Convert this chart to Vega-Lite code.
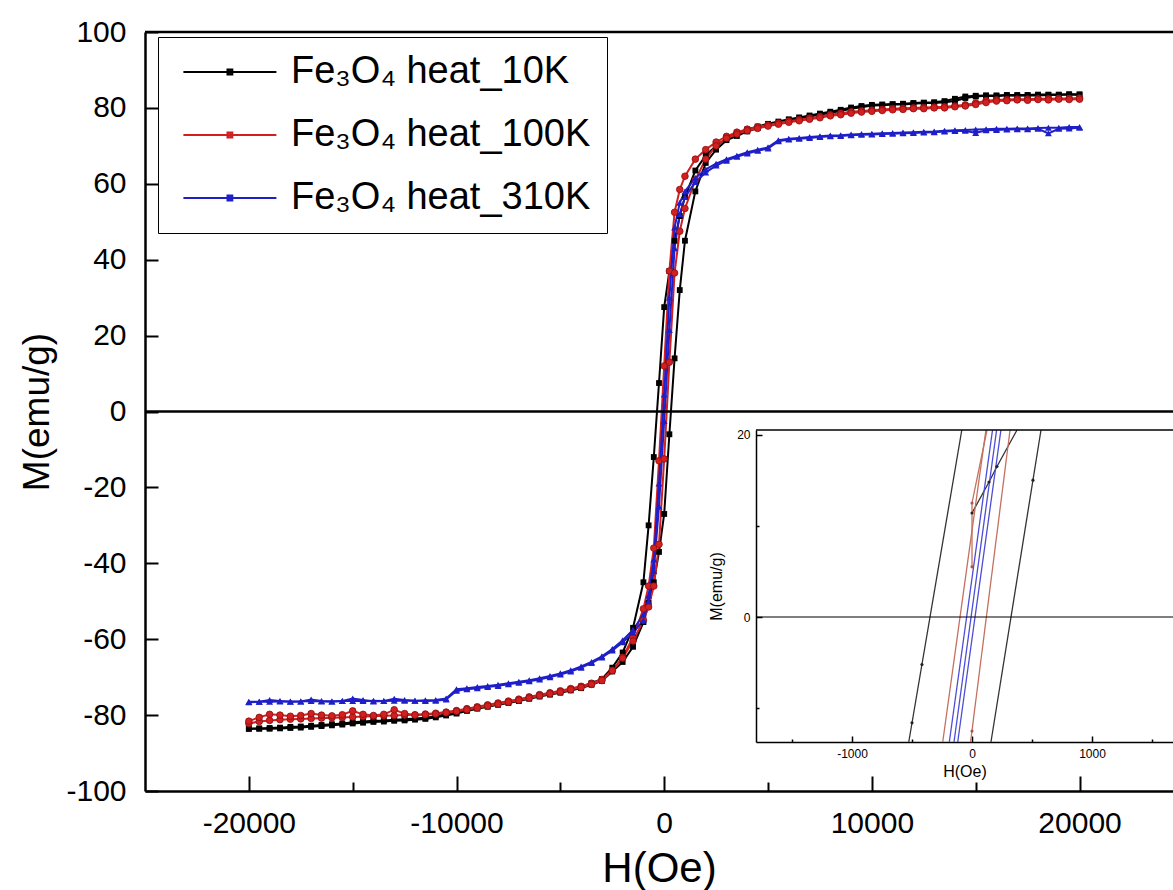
{
"$schema": "https://vega.github.io/schema/vega-lite/v6.json",
"width": 1028, "height": 759,
"autosize": {"type": "none"},
"padding": {"left": 145, "top": 32, "right": 0, "bottom": 99},
"background": "white",
"config": {"view": {"stroke": null}, "font": "Liberation Sans"},
"datasets": {
"main": [
{"s":"10K","b":"d","H":20000,"M":83.6},{"s":"10K","b":"d","H":19500,"M":83.6},{"s":"10K","b":"d","H":19000,"M":83.5},{"s":"10K","b":"d","H":18500,"M":83.5},{"s":"10K","b":"d","H":18000,"M":83.5},{"s":"10K","b":"d","H":17500,"M":83.4},{"s":"10K","b":"d","H":17000,"M":83.4},{"s":"10K","b":"d","H":16500,"M":83.4},{"s":"10K","b":"d","H":16000,"M":83.3},{"s":"10K","b":"d","H":15500,"M":83.3},{"s":"10K","b":"d","H":15000,"M":83.2},{"s":"10K","b":"d","H":14500,"M":83.0},{"s":"10K","b":"d","H":14000,"M":82.4},{"s":"10K","b":"d","H":13500,"M":81.8},{"s":"10K","b":"d","H":13000,"M":81.5},{"s":"10K","b":"d","H":12500,"M":81.4},{"s":"10K","b":"d","H":12000,"M":81.3},{"s":"10K","b":"d","H":11500,"M":81.1},{"s":"10K","b":"d","H":11000,"M":81.0},{"s":"10K","b":"d","H":10500,"M":80.9},{"s":"10K","b":"d","H":10000,"M":80.8},{"s":"10K","b":"d","H":9500,"M":80.5},{"s":"10K","b":"d","H":9000,"M":80.1},{"s":"10K","b":"d","H":8500,"M":79.5},{"s":"10K","b":"d","H":8000,"M":79.0},{"s":"10K","b":"d","H":7500,"M":78.5},{"s":"10K","b":"d","H":7000,"M":78.0},{"s":"10K","b":"d","H":6500,"M":77.5},{"s":"10K","b":"d","H":6000,"M":77.0},{"s":"10K","b":"d","H":5500,"M":76.4},{"s":"10K","b":"d","H":5000,"M":75.8},{"s":"10K","b":"d","H":4500,"M":75.1},{"s":"10K","b":"d","H":4000,"M":74.3},{"s":"10K","b":"d","H":3500,"M":73.3},{"s":"10K","b":"d","H":3000,"M":72.0},
{"s":"10K","b":"d","H":2500,"M":70.0},{"s":"10K","b":"d","H":2000,"M":67.5},{"s":"10K","b":"d","H":1500,"M":63.5},{"s":"10K","b":"d","H":1000,"M":56.5},{"s":"10K","b":"d","H":750,"M":51.5},{"s":"10K","b":"d","H":500,"M":45.0},{"s":"10K","b":"d","H":250,"M":37.0},{"s":"10K","b":"d","H":0,"M":27.5},{"s":"10K","b":"d","H":-250,"M":7.5},{"s":"10K","b":"d","H":-500,"M":-12.0},{"s":"10K","b":"d","H":-750,"M":-30.0},{"s":"10K","b":"d","H":-1000,"M":-45.0},{"s":"10K","b":"d","H":-1500,"M":-57.0},{"s":"10K","b":"d","H":-2000,"M":-63.5},{"s":"10K","b":"d","H":-2500,"M":-67.5},
{"s":"10K","b":"d","H":-3000,"M":-70.5},{"s":"10K","b":"d","H":-3500,"M":-71.6},{"s":"10K","b":"d","H":-4000,"M":-72.5},{"s":"10K","b":"d","H":-4500,"M":-73.2},{"s":"10K","b":"d","H":-5000,"M":-73.8},{"s":"10K","b":"d","H":-5500,"M":-74.3},{"s":"10K","b":"d","H":-6000,"M":-74.8},{"s":"10K","b":"d","H":-6500,"M":-75.4},{"s":"10K","b":"d","H":-7000,"M":-76.0},{"s":"10K","b":"d","H":-7500,"M":-76.5},{"s":"10K","b":"d","H":-8000,"M":-77.0},{"s":"10K","b":"d","H":-8500,"M":-77.5},{"s":"10K","b":"d","H":-9000,"M":-78.0},{"s":"10K","b":"d","H":-9500,"M":-78.6},{"s":"10K","b":"d","H":-10000,"M":-79.3},{"s":"10K","b":"d","H":-10500,"M":-79.8},{"s":"10K","b":"d","H":-11000,"M":-80.3},{"s":"10K","b":"d","H":-11500,"M":-80.7},{"s":"10K","b":"d","H":-12000,"M":-80.9},{"s":"10K","b":"d","H":-12500,"M":-81.1},{"s":"10K","b":"d","H":-13000,"M":-81.2},{"s":"10K","b":"d","H":-13500,"M":-81.4},{"s":"10K","b":"d","H":-14000,"M":-81.5},{"s":"10K","b":"d","H":-14500,"M":-81.7},{"s":"10K","b":"d","H":-15000,"M":-81.9},{"s":"10K","b":"d","H":-15500,"M":-82.2},{"s":"10K","b":"d","H":-16000,"M":-82.4},{"s":"10K","b":"d","H":-16500,"M":-82.6},{"s":"10K","b":"d","H":-17000,"M":-82.8},{"s":"10K","b":"d","H":-17500,"M":-83.0},{"s":"10K","b":"d","H":-18000,"M":-83.1},{"s":"10K","b":"d","H":-18500,"M":-83.3},{"s":"10K","b":"d","H":-19000,"M":-83.4},{"s":"10K","b":"d","H":-19500,"M":-83.5},{"s":"10K","b":"d","H":-20000,"M":-83.6},
{"s":"10K","b":"a","H":20000,"M":83.4},{"s":"10K","b":"a","H":19500,"M":83.5},{"s":"10K","b":"a","H":19000,"M":83.4},{"s":"10K","b":"a","H":18500,"M":83.4},{"s":"10K","b":"a","H":18000,"M":83.3},{"s":"10K","b":"a","H":17500,"M":83.3},{"s":"10K","b":"a","H":17000,"M":83.2},{"s":"10K","b":"a","H":16500,"M":83.3},{"s":"10K","b":"a","H":16000,"M":83.1},{"s":"10K","b":"a","H":15500,"M":83.2},{"s":"10K","b":"a","H":15000,"M":83.0},{"s":"10K","b":"a","H":14500,"M":82.6},{"s":"10K","b":"a","H":14000,"M":81.8},{"s":"10K","b":"a","H":13500,"M":81.5},{"s":"10K","b":"a","H":13000,"M":81.3},{"s":"10K","b":"a","H":12500,"M":81.3},{"s":"10K","b":"a","H":12000,"M":81.1},{"s":"10K","b":"a","H":11500,"M":80.9},{"s":"10K","b":"a","H":11000,"M":80.9},{"s":"10K","b":"a","H":10500,"M":80.7},{"s":"10K","b":"a","H":10000,"M":80.6},{"s":"10K","b":"a","H":9500,"M":80.2},{"s":"10K","b":"a","H":9000,"M":79.8},{"s":"10K","b":"a","H":8500,"M":79.2},{"s":"10K","b":"a","H":8000,"M":78.7},{"s":"10K","b":"a","H":7500,"M":78.2},{"s":"10K","b":"a","H":7000,"M":77.7},{"s":"10K","b":"a","H":6500,"M":77.2},{"s":"10K","b":"a","H":6000,"M":76.7},{"s":"10K","b":"a","H":5500,"M":76.1},{"s":"10K","b":"a","H":5000,"M":75.5},{"s":"10K","b":"a","H":4500,"M":74.7},{"s":"10K","b":"a","H":4000,"M":73.8},{"s":"10K","b":"a","H":3500,"M":72.6},{"s":"10K","b":"a","H":3000,"M":71.5},
{"s":"10K","b":"a","H":2500,"M":69.0},{"s":"10K","b":"a","H":2000,"M":65.5},{"s":"10K","b":"a","H":1500,"M":58.0},{"s":"10K","b":"a","H":1000,"M":45.0},{"s":"10K","b":"a","H":750,"M":32.0},{"s":"10K","b":"a","H":500,"M":14.0},{"s":"10K","b":"a","H":250,"M":-6.0},{"s":"10K","b":"a","H":0,"M":-27.0},{"s":"10K","b":"a","H":-250,"M":-37.0},{"s":"10K","b":"a","H":-500,"M":-45.0},{"s":"10K","b":"a","H":-750,"M":-50.5},{"s":"10K","b":"a","H":-1000,"M":-55.5},{"s":"10K","b":"a","H":-1500,"M":-62.0},{"s":"10K","b":"a","H":-2000,"M":-66.0},{"s":"10K","b":"a","H":-2500,"M":-68.5},
{"s":"10K","b":"a","H":-3000,"M":-71.0},{"s":"10K","b":"a","H":-3500,"M":-72.0},{"s":"10K","b":"a","H":-4000,"M":-72.9},{"s":"10K","b":"a","H":-4500,"M":-73.5},{"s":"10K","b":"a","H":-5000,"M":-74.1},{"s":"10K","b":"a","H":-5500,"M":-74.6},{"s":"10K","b":"a","H":-6000,"M":-75.1},{"s":"10K","b":"a","H":-6500,"M":-75.7},{"s":"10K","b":"a","H":-7000,"M":-76.3},{"s":"10K","b":"a","H":-7500,"M":-76.8},{"s":"10K","b":"a","H":-8000,"M":-77.3},{"s":"10K","b":"a","H":-8500,"M":-77.8},{"s":"10K","b":"a","H":-9000,"M":-78.3},{"s":"10K","b":"a","H":-9500,"M":-78.9},{"s":"10K","b":"a","H":-10000,"M":-79.6},{"s":"10K","b":"a","H":-10500,"M":-80.1},{"s":"10K","b":"a","H":-11000,"M":-80.6},{"s":"10K","b":"a","H":-11500,"M":-81.0},{"s":"10K","b":"a","H":-12000,"M":-81.2},{"s":"10K","b":"a","H":-12500,"M":-81.4},{"s":"10K","b":"a","H":-13000,"M":-81.5},{"s":"10K","b":"a","H":-13500,"M":-81.7},{"s":"10K","b":"a","H":-14000,"M":-81.8},{"s":"10K","b":"a","H":-14500,"M":-82.0},{"s":"10K","b":"a","H":-15000,"M":-82.2},{"s":"10K","b":"a","H":-15500,"M":-82.5},{"s":"10K","b":"a","H":-16000,"M":-82.7},{"s":"10K","b":"a","H":-16500,"M":-82.9},{"s":"10K","b":"a","H":-17000,"M":-83.1},{"s":"10K","b":"a","H":-17500,"M":-83.3},{"s":"10K","b":"a","H":-18000,"M":-83.4},{"s":"10K","b":"a","H":-18500,"M":-83.5},{"s":"10K","b":"a","H":-19000,"M":-83.6},{"s":"10K","b":"a","H":-19500,"M":-83.6},{"s":"10K","b":"a","H":-20000,"M":-83.6},
{"s":"100K","b":"d","H":20000,"M":82.6},{"s":"100K","b":"d","H":19500,"M":82.5},{"s":"100K","b":"d","H":19000,"M":82.5},{"s":"100K","b":"d","H":18500,"M":82.4},{"s":"100K","b":"d","H":18000,"M":82.4},{"s":"100K","b":"d","H":17500,"M":82.3},{"s":"100K","b":"d","H":17000,"M":82.3},{"s":"100K","b":"d","H":16500,"M":82.2},{"s":"100K","b":"d","H":16000,"M":82.1},{"s":"100K","b":"d","H":15500,"M":81.9},{"s":"100K","b":"d","H":15000,"M":81.3},{"s":"100K","b":"d","H":14500,"M":80.8},{"s":"100K","b":"d","H":14000,"M":80.5},{"s":"100K","b":"d","H":13500,"M":80.3},{"s":"100K","b":"d","H":13000,"M":80.2},{"s":"100K","b":"d","H":12500,"M":80.1},{"s":"100K","b":"d","H":12000,"M":80.0},{"s":"100K","b":"d","H":11500,"M":79.9},{"s":"100K","b":"d","H":11000,"M":79.8},{"s":"100K","b":"d","H":10500,"M":79.6},{"s":"100K","b":"d","H":10000,"M":79.4},{"s":"100K","b":"d","H":9500,"M":79.2},{"s":"100K","b":"d","H":9000,"M":79.0},{"s":"100K","b":"d","H":8500,"M":78.6},{"s":"100K","b":"d","H":8000,"M":78.2},{"s":"100K","b":"d","H":7500,"M":77.7},{"s":"100K","b":"d","H":7000,"M":77.3},{"s":"100K","b":"d","H":6500,"M":76.9},{"s":"100K","b":"d","H":6000,"M":76.5},{"s":"100K","b":"d","H":5500,"M":76.0},{"s":"100K","b":"d","H":5000,"M":75.5},{"s":"100K","b":"d","H":4500,"M":75.0},{"s":"100K","b":"d","H":4000,"M":74.4},{"s":"100K","b":"d","H":3500,"M":73.6},{"s":"100K","b":"d","H":3000,"M":72.5},
{"s":"100K","b":"d","H":2500,"M":71.0},{"s":"100K","b":"d","H":2000,"M":69.0},{"s":"100K","b":"d","H":1500,"M":66.5},{"s":"100K","b":"d","H":1000,"M":62.0},{"s":"100K","b":"d","H":750,"M":58.5},{"s":"100K","b":"d","H":500,"M":52.5},{"s":"100K","b":"d","H":250,"M":37.0},{"s":"100K","b":"d","H":0,"M":12.0},{"s":"100K","b":"d","H":-250,"M":-13.0},{"s":"100K","b":"d","H":-500,"M":-36.0},{"s":"100K","b":"d","H":-750,"M":-46.0},{"s":"100K","b":"d","H":-1000,"M":-52.0},{"s":"100K","b":"d","H":-1500,"M":-59.5},{"s":"100K","b":"d","H":-2000,"M":-64.8},{"s":"100K","b":"d","H":-2500,"M":-68.2},
{"s":"100K","b":"d","H":-3000,"M":-70.6},{"s":"100K","b":"d","H":-3500,"M":-71.6},{"s":"100K","b":"d","H":-4000,"M":-72.4},{"s":"100K","b":"d","H":-4500,"M":-73.0},{"s":"100K","b":"d","H":-5000,"M":-73.6},{"s":"100K","b":"d","H":-5500,"M":-74.1},{"s":"100K","b":"d","H":-6000,"M":-74.6},{"s":"100K","b":"d","H":-6500,"M":-75.2},{"s":"100K","b":"d","H":-7000,"M":-75.8},{"s":"100K","b":"d","H":-7500,"M":-76.3},{"s":"100K","b":"d","H":-8000,"M":-76.8},{"s":"100K","b":"d","H":-8500,"M":-77.3},{"s":"100K","b":"d","H":-9000,"M":-77.8},{"s":"100K","b":"d","H":-9500,"M":-78.3},{"s":"100K","b":"d","H":-10000,"M":-78.8},{"s":"100K","b":"d","H":-10500,"M":-79.2},{"s":"100K","b":"d","H":-11000,"M":-79.5},{"s":"100K","b":"d","H":-11500,"M":-79.7},{"s":"100K","b":"d","H":-12000,"M":-79.9},{"s":"100K","b":"d","H":-12500,"M":-80.0},{"s":"100K","b":"d","H":-13000,"M":-80.1},{"s":"100K","b":"d","H":-13500,"M":-80.2},{"s":"100K","b":"d","H":-14000,"M":-80.3},{"s":"100K","b":"d","H":-14500,"M":-80.4},{"s":"100K","b":"d","H":-15000,"M":-80.5},{"s":"100K","b":"d","H":-15500,"M":-80.6},{"s":"100K","b":"d","H":-16000,"M":-80.7},{"s":"100K","b":"d","H":-16500,"M":-80.8},{"s":"100K","b":"d","H":-17000,"M":-80.9},{"s":"100K","b":"d","H":-17500,"M":-81.0},{"s":"100K","b":"d","H":-18000,"M":-81.1},{"s":"100K","b":"d","H":-18500,"M":-81.2},{"s":"100K","b":"d","H":-19000,"M":-81.4},{"s":"100K","b":"d","H":-19500,"M":-81.7},{"s":"100K","b":"d","H":-20000,"M":-82.2},
{"s":"100K","b":"a","H":20000,"M":82.3},{"s":"100K","b":"a","H":19500,"M":82.2},{"s":"100K","b":"a","H":19000,"M":82.3},{"s":"100K","b":"a","H":18500,"M":82.1},{"s":"100K","b":"a","H":18000,"M":82.2},{"s":"100K","b":"a","H":17500,"M":82.0},{"s":"100K","b":"a","H":17000,"M":82.1},{"s":"100K","b":"a","H":16500,"M":81.9},{"s":"100K","b":"a","H":16000,"M":81.8},{"s":"100K","b":"a","H":15500,"M":81.4},{"s":"100K","b":"a","H":15000,"M":80.9},{"s":"100K","b":"a","H":14500,"M":80.5},{"s":"100K","b":"a","H":14000,"M":80.3},{"s":"100K","b":"a","H":13500,"M":80.0},{"s":"100K","b":"a","H":13000,"M":80.0},{"s":"100K","b":"a","H":12500,"M":79.8},{"s":"100K","b":"a","H":12000,"M":79.8},{"s":"100K","b":"a","H":11500,"M":79.6},{"s":"100K","b":"a","H":11000,"M":79.5},{"s":"100K","b":"a","H":10500,"M":79.3},{"s":"100K","b":"a","H":10000,"M":79.1},{"s":"100K","b":"a","H":9500,"M":78.9},{"s":"100K","b":"a","H":9000,"M":78.6},{"s":"100K","b":"a","H":8500,"M":78.2},{"s":"100K","b":"a","H":8000,"M":77.9},{"s":"100K","b":"a","H":7500,"M":77.4},{"s":"100K","b":"a","H":7000,"M":77.0},{"s":"100K","b":"a","H":6500,"M":76.6},{"s":"100K","b":"a","H":6000,"M":76.2},{"s":"100K","b":"a","H":5500,"M":75.7},{"s":"100K","b":"a","H":5000,"M":75.2},{"s":"100K","b":"a","H":4500,"M":74.6},{"s":"100K","b":"a","H":4000,"M":74.0},{"s":"100K","b":"a","H":3500,"M":73.1},{"s":"100K","b":"a","H":3000,"M":72.0},
{"s":"100K","b":"a","H":2500,"M":70.0},{"s":"100K","b":"a","H":2000,"M":66.5},{"s":"100K","b":"a","H":1500,"M":61.0},{"s":"100K","b":"a","H":1000,"M":53.5},{"s":"100K","b":"a","H":750,"M":47.5},{"s":"100K","b":"a","H":500,"M":36.5},{"s":"100K","b":"a","H":250,"M":13.0},{"s":"100K","b":"a","H":0,"M":-12.5},{"s":"100K","b":"a","H":-250,"M":-35.0},{"s":"100K","b":"a","H":-500,"M":-46.0},{"s":"100K","b":"a","H":-750,"M":-51.5},{"s":"100K","b":"a","H":-1000,"M":-55.0},{"s":"100K","b":"a","H":-1500,"M":-60.5},{"s":"100K","b":"a","H":-2000,"M":-65.0},{"s":"100K","b":"a","H":-2500,"M":-68.3},
{"s":"100K","b":"a","H":-3000,"M":-70.9},{"s":"100K","b":"a","H":-3500,"M":-71.9},{"s":"100K","b":"a","H":-4000,"M":-72.7},{"s":"100K","b":"a","H":-4500,"M":-73.3},{"s":"100K","b":"a","H":-5000,"M":-73.9},{"s":"100K","b":"a","H":-5500,"M":-74.4},{"s":"100K","b":"a","H":-6000,"M":-74.9},{"s":"100K","b":"a","H":-6500,"M":-75.5},{"s":"100K","b":"a","H":-7000,"M":-76.1},{"s":"100K","b":"a","H":-7500,"M":-76.6},{"s":"100K","b":"a","H":-8000,"M":-77.1},{"s":"100K","b":"a","H":-8500,"M":-77.6},{"s":"100K","b":"a","H":-9000,"M":-78.1},{"s":"100K","b":"a","H":-9500,"M":-78.6},{"s":"100K","b":"a","H":-10000,"M":-79.0},{"s":"100K","b":"a","H":-10500,"M":-79.4},{"s":"100K","b":"a","H":-11000,"M":-79.7},{"s":"100K","b":"a","H":-11500,"M":-79.9},{"s":"100K","b":"a","H":-12000,"M":-80.0},{"s":"100K","b":"a","H":-12500,"M":-79.6},{"s":"100K","b":"a","H":-13000,"M":-78.6},{"s":"100K","b":"a","H":-13500,"M":-79.8},{"s":"100K","b":"a","H":-14000,"M":-80.1},{"s":"100K","b":"a","H":-14500,"M":-79.8},{"s":"100K","b":"a","H":-15000,"M":-78.9},{"s":"100K","b":"a","H":-15500,"M":-79.9},{"s":"100K","b":"a","H":-16000,"M":-80.2},{"s":"100K","b":"a","H":-16500,"M":-80.0},{"s":"100K","b":"a","H":-17000,"M":-79.6},{"s":"100K","b":"a","H":-17500,"M":-80.1},{"s":"100K","b":"a","H":-18000,"M":-80.3},{"s":"100K","b":"a","H":-18500,"M":-80.0},{"s":"100K","b":"a","H":-19000,"M":-79.8},{"s":"100K","b":"a","H":-19500,"M":-80.6},{"s":"100K","b":"a","H":-20000,"M":-81.6},
{"s":"310K","b":"d","H":20000,"M":75.0},{"s":"310K","b":"d","H":19500,"M":75.0},{"s":"310K","b":"d","H":19000,"M":74.8},{"s":"310K","b":"d","H":18500,"M":74.8},{"s":"310K","b":"d","H":18000,"M":74.7},{"s":"310K","b":"d","H":17500,"M":74.6},{"s":"310K","b":"d","H":17000,"M":74.6},{"s":"310K","b":"d","H":16500,"M":74.5},{"s":"310K","b":"d","H":16000,"M":74.5},{"s":"310K","b":"d","H":15500,"M":74.4},{"s":"310K","b":"d","H":15000,"M":74.3},{"s":"310K","b":"d","H":14500,"M":74.2},{"s":"310K","b":"d","H":14000,"M":74.1},{"s":"310K","b":"d","H":13500,"M":74.0},{"s":"310K","b":"d","H":13000,"M":73.8},{"s":"310K","b":"d","H":12500,"M":73.7},{"s":"310K","b":"d","H":12000,"M":73.6},{"s":"310K","b":"d","H":11500,"M":73.5},{"s":"310K","b":"d","H":11000,"M":73.4},{"s":"310K","b":"d","H":10500,"M":73.3},{"s":"310K","b":"d","H":10000,"M":73.2},{"s":"310K","b":"d","H":9500,"M":73.1},{"s":"310K","b":"d","H":9000,"M":73.0},{"s":"310K","b":"d","H":8500,"M":72.8},{"s":"310K","b":"d","H":8000,"M":72.7},{"s":"310K","b":"d","H":7500,"M":72.5},{"s":"310K","b":"d","H":7000,"M":72.3},{"s":"310K","b":"d","H":6500,"M":72.1},{"s":"310K","b":"d","H":6000,"M":71.9},{"s":"310K","b":"d","H":5500,"M":71.5},{"s":"310K","b":"d","H":5000,"M":69.6},{"s":"310K","b":"d","H":4500,"M":69.0},{"s":"310K","b":"d","H":4000,"M":68.3},{"s":"310K","b":"d","H":3500,"M":67.4},{"s":"310K","b":"d","H":3000,"M":66.5},
{"s":"310K","b":"d","H":2500,"M":65.3},{"s":"310K","b":"d","H":2000,"M":63.8},{"s":"310K","b":"d","H":1500,"M":61.5},{"s":"310K","b":"d","H":1000,"M":58.0},{"s":"310K","b":"d","H":750,"M":55.0},{"s":"310K","b":"d","H":500,"M":48.5},{"s":"310K","b":"d","H":250,"M":30.0},{"s":"310K","b":"d","H":0,"M":4.5},{"s":"310K","b":"d","H":-250,"M":-19.0},{"s":"310K","b":"d","H":-500,"M":-39.0},{"s":"310K","b":"d","H":-750,"M":-48.5},{"s":"310K","b":"d","H":-1000,"M":-53.5},{"s":"310K","b":"d","H":-1500,"M":-57.5},{"s":"310K","b":"d","H":-2000,"M":-60.3},{"s":"310K","b":"d","H":-2500,"M":-62.6},
{"s":"310K","b":"d","H":-3000,"M":-64.5},{"s":"310K","b":"d","H":-3500,"M":-66.0},{"s":"310K","b":"d","H":-4000,"M":-67.2},{"s":"310K","b":"d","H":-4500,"M":-68.2},{"s":"310K","b":"d","H":-5000,"M":-69.0},{"s":"310K","b":"d","H":-5500,"M":-69.7},{"s":"310K","b":"d","H":-6000,"M":-70.3},{"s":"310K","b":"d","H":-6500,"M":-70.8},{"s":"310K","b":"d","H":-7000,"M":-71.2},{"s":"310K","b":"d","H":-7500,"M":-71.6},{"s":"310K","b":"d","H":-8000,"M":-72.0},{"s":"310K","b":"d","H":-8500,"M":-72.3},{"s":"310K","b":"d","H":-9000,"M":-72.6},{"s":"310K","b":"d","H":-9500,"M":-72.9},{"s":"310K","b":"d","H":-10000,"M":-73.2},{"s":"310K","b":"d","H":-10500,"M":-75.6},{"s":"310K","b":"d","H":-11000,"M":-76.0},{"s":"310K","b":"d","H":-11500,"M":-76.1},{"s":"310K","b":"d","H":-12000,"M":-76.2},{"s":"310K","b":"d","H":-12500,"M":-76.2},{"s":"310K","b":"d","H":-13000,"M":-76.2},{"s":"310K","b":"d","H":-13500,"M":-76.3},{"s":"310K","b":"d","H":-14000,"M":-76.2},{"s":"310K","b":"d","H":-14500,"M":-76.3},{"s":"310K","b":"d","H":-15000,"M":-76.3},{"s":"310K","b":"d","H":-15500,"M":-76.3},{"s":"310K","b":"d","H":-16000,"M":-76.4},{"s":"310K","b":"d","H":-16500,"M":-76.4},{"s":"310K","b":"d","H":-17000,"M":-76.3},{"s":"310K","b":"d","H":-17500,"M":-76.4},{"s":"310K","b":"d","H":-18000,"M":-76.4},{"s":"310K","b":"d","H":-18500,"M":-76.4},{"s":"310K","b":"d","H":-19000,"M":-76.5},{"s":"310K","b":"d","H":-19500,"M":-76.5},{"s":"310K","b":"d","H":-20000,"M":-76.5},
{"s":"310K","b":"a","H":20000,"M":74.8},{"s":"310K","b":"a","H":19500,"M":74.6},{"s":"310K","b":"a","H":19000,"M":74.5},{"s":"310K","b":"a","H":18500,"M":73.3},{"s":"310K","b":"a","H":18000,"M":74.5},{"s":"310K","b":"a","H":17500,"M":74.4},{"s":"310K","b":"a","H":17000,"M":74.4},{"s":"310K","b":"a","H":16500,"M":74.3},{"s":"310K","b":"a","H":16000,"M":74.2},{"s":"310K","b":"a","H":15500,"M":74.1},{"s":"310K","b":"a","H":15000,"M":73.4},{"s":"310K","b":"a","H":14500,"M":74.0},{"s":"310K","b":"a","H":14000,"M":73.9},{"s":"310K","b":"a","H":13500,"M":73.8},{"s":"310K","b":"a","H":13000,"M":73.6},{"s":"310K","b":"a","H":12500,"M":73.5},{"s":"310K","b":"a","H":12000,"M":73.4},{"s":"310K","b":"a","H":11500,"M":73.3},{"s":"310K","b":"a","H":11000,"M":73.2},{"s":"310K","b":"a","H":10500,"M":73.1},{"s":"310K","b":"a","H":10000,"M":73.0},{"s":"310K","b":"a","H":9500,"M":72.9},{"s":"310K","b":"a","H":9000,"M":72.8},{"s":"310K","b":"a","H":8500,"M":72.6},{"s":"310K","b":"a","H":8000,"M":72.5},{"s":"310K","b":"a","H":7500,"M":72.3},{"s":"310K","b":"a","H":7000,"M":72.1},{"s":"310K","b":"a","H":6500,"M":71.9},{"s":"310K","b":"a","H":6000,"M":71.7},{"s":"310K","b":"a","H":5500,"M":71.2},{"s":"310K","b":"a","H":5000,"M":69.3},{"s":"310K","b":"a","H":4500,"M":68.7},{"s":"310K","b":"a","H":4000,"M":68.0},{"s":"310K","b":"a","H":3500,"M":67.1},{"s":"310K","b":"a","H":3000,"M":66.1},
{"s":"310K","b":"a","H":2500,"M":64.8},{"s":"310K","b":"a","H":2000,"M":63.0},{"s":"310K","b":"a","H":1500,"M":60.5},{"s":"310K","b":"a","H":1000,"M":56.5},{"s":"310K","b":"a","H":750,"M":52.0},{"s":"310K","b":"a","H":500,"M":43.0},{"s":"310K","b":"a","H":250,"M":21.5},{"s":"310K","b":"a","H":0,"M":-2.5},{"s":"310K","b":"a","H":-250,"M":-25.0},{"s":"310K","b":"a","H":-500,"M":-42.0},{"s":"310K","b":"a","H":-750,"M":-50.0},{"s":"310K","b":"a","H":-1000,"M":-55.0},{"s":"310K","b":"a","H":-1500,"M":-58.3},{"s":"310K","b":"a","H":-2000,"M":-60.8},{"s":"310K","b":"a","H":-2500,"M":-63.0},
{"s":"310K","b":"a","H":-3000,"M":-64.8},{"s":"310K","b":"a","H":-3500,"M":-66.3},{"s":"310K","b":"a","H":-4000,"M":-67.5},{"s":"310K","b":"a","H":-4500,"M":-68.5},{"s":"310K","b":"a","H":-5000,"M":-69.3},{"s":"310K","b":"a","H":-5500,"M":-70.0},{"s":"310K","b":"a","H":-6000,"M":-70.6},{"s":"310K","b":"a","H":-6500,"M":-71.1},{"s":"310K","b":"a","H":-7000,"M":-71.5},{"s":"310K","b":"a","H":-7500,"M":-71.9},{"s":"310K","b":"a","H":-8000,"M":-72.3},{"s":"310K","b":"a","H":-8500,"M":-72.6},{"s":"310K","b":"a","H":-9000,"M":-72.9},{"s":"310K","b":"a","H":-9500,"M":-73.2},{"s":"310K","b":"a","H":-10000,"M":-73.6},{"s":"310K","b":"a","H":-10500,"M":-75.9},{"s":"310K","b":"a","H":-11000,"M":-76.2},{"s":"310K","b":"a","H":-11500,"M":-76.3},{"s":"310K","b":"a","H":-12000,"M":-76.2},{"s":"310K","b":"a","H":-12500,"M":-76.0},{"s":"310K","b":"a","H":-13000,"M":-75.7},{"s":"310K","b":"a","H":-13500,"M":-76.3},{"s":"310K","b":"a","H":-14000,"M":-76.4},{"s":"310K","b":"a","H":-14500,"M":-76.0},{"s":"310K","b":"a","H":-15000,"M":-75.6},{"s":"310K","b":"a","H":-15500,"M":-76.3},{"s":"310K","b":"a","H":-16000,"M":-76.4},{"s":"310K","b":"a","H":-16500,"M":-76.3},{"s":"310K","b":"a","H":-17000,"M":-75.9},{"s":"310K","b":"a","H":-17500,"M":-76.4},{"s":"310K","b":"a","H":-18000,"M":-76.5},{"s":"310K","b":"a","H":-18500,"M":-76.3},{"s":"310K","b":"a","H":-19000,"M":-76.0},{"s":"310K","b":"a","H":-19500,"M":-76.5},{"s":"310K","b":"a","H":-20000,"M":-76.6}
],
"inset": [
{"s":"10K","b":"d","H":-527,"M":-13.7},{"s":"10K","b":"d","H":-85,"M":20.5},
{"s":"10K","b":"a","H":158,"M":-13.7},{"s":"10K","b":"a","H":575,"M":20.5},
{"s":"10K","b":"v","H":0,"M":11.4},{"s":"10K","b":"v","H":142,"M":14.8},{"s":"10K","b":"v","H":208,"M":16.5},{"s":"10K","b":"v","H":375,"M":20.5},
{"s":"100K","b":"d","H":-244,"M":-13.7},{"s":"100K","b":"d","H":116,"M":20.5},
{"s":"100K","b":"a","H":-12,"M":-13.7},{"s":"100K","b":"a","H":317,"M":20.5},
{"s":"100K","b":"v","H":0,"M":5.5},{"s":"100K","b":"v","H":0,"M":12.5},{"s":"100K","b":"v","H":125,"M":20.5},
{"s":"310K","b":"d","H":-189,"M":-13.7},{"s":"310K","b":"d","H":171,"M":20.5},
{"s":"310K","b":"a","H":-119,"M":-13.7},{"s":"310K","b":"a","H":241,"M":20.5},
{"s":"310K","b":"v","H":-150,"M":-13.7},{"s":"310K","b":"v","H":205,"M":20.5}
],
"insetDots": [
{"s":"10K","H":-500,"M":-11.6},{"s":"10K","H":-417,"M":-5.2},{"s":"10K","H":508,"M":15.0},{"s":"10K","H":0,"M":11.4},{"s":"10K","H":142,"M":14.8},{"s":"10K","H":208,"M":16.5},
{"s":"100K","H":0,"M":12.5},{"s":"100K","H":0,"M":5.5},{"s":"100K","H":0,"M":-12.5}
],
"one": [{"k": 1}]
},
"layer": [
{
"layer": [
{"data": {"name": "main"}, "mark": {"type": "line", "strokeWidth": 2, "clip": true},
 "encoding": {
  "x": {"field": "H", "type": "quantitative", "scale": {"domain": [-25000, 24500], "nice": false, "zero": false},
        "axis": {"orient": "bottom", "values": [-20000,-15000,-10000,-5000,0,5000,10000,15000,20000],
                 "labelExpr": "datum.value % 10000 === 0 ? '' + datum.value : ''",
                 "tickSize": {"condition": {"test": "datum.value % 10000 === 0", "value": -15}, "value": -9},
                 "tickWidth": 2, "tickColor": "black", "domainColor": "black", "domainWidth": 2.5,
                 "labelFont": "Liberation Sans", "labelFontSize": 30, "labelColor": "black", "labelPadding": 32,
                 "labelFlush": false, "labelOverlap": false, "grid": false,
                 "title": "H(Oe)", "titleFont": "Liberation Sans", "titleFontSize": 42, "titleFontWeight": "normal", "titleColor": "black", "titlePadding": 4}},
  "y": {"field": "M", "type": "quantitative", "scale": {"domain": [-100, 100], "nice": false, "zero": false},
        "axis": {"orient": "left", "values": [-100,-90,-80,-70,-60,-50,-40,-30,-20,-10,0,10,20,30,40,50,60,70,80,90,100],
                 "labelExpr": "datum.value % 20 === 0 ? '' + datum.value : ''",
                 "tickSize": {"condition": {"test": "datum.value % 20 === 0", "value": -13}, "value": -9},
                 "tickWidth": 2, "tickColor": "black", "domainColor": "black", "domainWidth": 2.5,
                 "labelFont": "Liberation Sans", "labelFontSize": 30, "labelColor": "black", "labelPadding": 32,
                 "labelFlush": false, "labelOverlap": false, "grid": false,
                 "title": "M(emu/g)", "titleFont": "Liberation Sans", "titleFontSize": 37, "titleFontWeight": "normal", "titleColor": "black", "titlePadding": 9}},
  "color": {"field": "s", "type": "nominal", "scale": {"domain": ["10K", "100K", "310K"], "range": ["#000000", "#d21f1f", "#1f1fc8"]},
            "legend": {"orient": "none", "legendX": 13, "legendY": 5, "title": null,
                       "labelExpr": "'Fe₃O₄ heat_' + datum.label",
                       "labelFont": "Liberation Sans", "labelFontSize": 38, "labelColor": "black", "labelLimit": 500,
                       "symbolType": "M-0.8,0H6.95M2.875,-0.2H3.275V0.2H2.875Z", "symbolSize": 576, "symbolStrokeWidth": 2,
                       "labelOffset": 79, "padding": 16, "rowPadding": 25,
                       "strokeColor": "black", "fillColor": "white", "cornerRadius": 0}},
  "detail": {"field": "b"}
 }},
{"data": {"name": "main"}, "transform": [{"filter": "datum.s === '10K'"}], "mark": {"type": "point", "shape": "square", "filled": true, "opacity": 1, "size": 34, "color": "#000000", "clip": true},
 "encoding": {"x": {"field": "H", "type": "quantitative"}, "y": {"field": "M", "type": "quantitative"}}},
{"data": {"name": "main"}, "transform": [{"filter": "datum.s === '100K'"}], "mark": {"type": "point", "shape": "circle", "filled": true, "opacity": 1, "size": 44, "color": "#d21f1f", "stroke": "#8a1010", "strokeWidth": 0.8, "clip": true},
 "encoding": {"x": {"field": "H", "type": "quantitative"}, "y": {"field": "M", "type": "quantitative"}}},
{"data": {"name": "main"}, "transform": [{"filter": "datum.s === '310K'"}], "mark": {"type": "point", "shape": "triangle-up", "filled": true, "opacity": 1, "size": 48, "color": "#1f1fc8", "clip": true},
 "encoding": {"x": {"field": "H", "type": "quantitative"}, "y": {"field": "M", "type": "quantitative"}}},
{"data": {"name": "one"}, "mark": {"type": "rule", "strokeWidth": 2.5, "color": "black"}, "encoding": {"y": {"datum": 0}}},
{"data": {"name": "one"}, "mark": {"type": "rule", "strokeWidth": 2.5, "color": "black"}, "encoding": {"y": {"datum": 100}}}
]
},
{
"layer": [
{"data": {"name": "inset"}, "mark": {"type": "line", "strokeWidth": 1.3},
 "encoding": {
  "x": {"field": "H", "type": "quantitative", "scale": {"domain": [-1800, 1675], "range": [611, 1028], "nice": false, "zero": false},
        "axis": {"orient": "bottom", "offset": -49, "values": [-1500,-1000,-500,0,500,1000,1500],
                 "labelExpr": "datum.value % 1000 === 0 ? '' + datum.value : ''",
                 "tickSize": {"condition": {"test": "datum.value % 1000 === 0", "value": -6}, "value": -3},
                 "tickWidth": 1.5, "tickColor": "black", "domainColor": "black", "domainWidth": 1.5,
                 "labelFont": "Liberation Sans", "labelFontSize": 12, "labelColor": "black", "labelPadding": 12,
                 "labelFlush": false, "labelOverlap": false, "grid": false,
                 "title": "H(Oe)", "titleFont": "Liberation Sans", "titleFontSize": 16, "titleFontWeight": "normal", "titleColor": "black", "titlePadding": 1}},
  "y": {"field": "M", "type": "quantitative", "scale": {"domain": [-13.7, 20.5], "range": [710, 398], "nice": false, "zero": false},
        "axis": {"orient": "left", "offset": -611, "values": [-10, 0, 10, 20],
                 "labelExpr": "datum.value % 20 === 0 ? '' + datum.value : ''",
                 "tickSize": {"condition": {"test": "datum.value % 20 === 0", "value": -6}, "value": -3},
                 "tickWidth": 1.5, "tickColor": "black", "domainColor": "black", "domainWidth": 1.5,
                 "labelFont": "Liberation Sans", "labelFontSize": 12, "labelColor": "black", "labelPadding": 12,
                 "labelFlush": false, "labelOverlap": false, "grid": false,
                 "title": "M(emu/g)", "titleFont": "Liberation Sans", "titleFontSize": 16, "titleFontWeight": "normal", "titleColor": "black", "titlePadding": 12}},
  "stroke": {"field": "s", "type": "nominal", "scale": {"domain": ["10K", "100K", "310K"], "range": ["#333333", "#c4705f", "#4c4cd6"]}, "legend": null},
  "detail": {"field": "b"}
 }},
{"data": {"name": "insetDots"}, "mark": {"type": "point", "filled": true, "size": 10, "opacity": 1},
 "encoding": {
  "x": {"field": "H", "type": "quantitative"},
  "y": {"field": "M", "type": "quantitative"},
  "fill": {"field": "s", "type": "nominal", "scale": {"domain": ["10K", "100K", "310K"], "range": ["#222222", "#b05050", "#3030c0"]}, "legend": null}
 }},
{"data": {"name": "one"}, "mark": {"type": "rule", "strokeWidth": 1.2, "color": "black"},
 "encoding": {"x": {"datum": -1800}, "x2": {"datum": 1675}, "y": {"datum": 0}}},
{"data": {"name": "one"}, "mark": {"type": "rule", "strokeWidth": 1.5, "color": "black"},
 "encoding": {"x": {"datum": -1800}, "x2": {"datum": 1675}, "y": {"datum": 20.5}}}
]
}
],
"resolve": {"scale": {"x": "independent", "y": "independent"}}
}
